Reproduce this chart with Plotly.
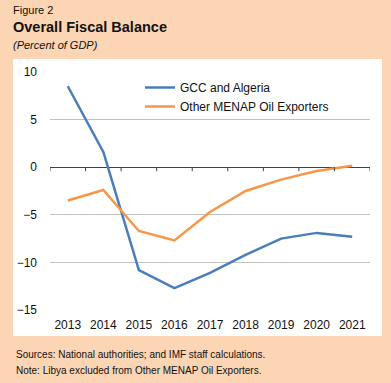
import plotly.graph_objects as go

years = ["2013", "2014", "2015", "2016", "2017", "2018", "2019", "2020", "2021"]
gcc_algeria = [8.5, 1.6, -10.8, -12.7, -11.1, -9.2, -7.5, -6.9, -7.3]
other_menap = [-3.5, -2.4, -6.7, -7.7, -4.7, -2.5, -1.3, -0.4, 0.15]
y_ticks = [10, 5, 0, -5, -10, -15]

W, H = 391, 383
L, R, T, B = 50, 21, 72, 73
pw, ph = W - L - R, H - T - B
unit = ph / 25.0

def px_x(x):
    return (x - L) / pw

def px_y(y):
    return (H - B - y) / ph

FONT = "Liberation Sans, Arial, sans-serif"
TXT = "#111111"
PEACH = "#FCD5B4"
AXIS = "#404040"

fig = go.Figure()
fig.add_trace(go.Scatter(x=years, y=gcc_algeria, mode="lines", name="GCC and Algeria",
                         line=dict(color="#4A7EBB", width=2.5)))
fig.add_trace(go.Scatter(x=years, y=other_menap, mode="lines", name="Other MENAP Oil Exporters",
                         line=dict(color="#F79646", width=2.5)))

bx0, bx1, by0, by1 = 13, 382, 59, 336
frame = [(0, W, 0, by0), (0, W, by1, H), (0, bx0, by0, by1), (bx1, W, by0, by1)]
shapes = [dict(type="rect", xref="paper", yref="paper", layer="below",
               x0=px_x(a), x1=px_x(b), y0=px_y(d), y1=px_y(c),
               fillcolor=PEACH, line=dict(width=0)) for a, b, c, d in frame]
# small tick marks on the zero line at the category boundaries
shapes += [dict(type="line", xref="x", yref="y", x0=i - 0.5, x1=i - 0.5,
                y0=0, y1=-4 / unit, line=dict(color=AXIS, width=1))
           for i in range(len(years) + 1)]

fig.update_layout(
    template="none",
    width=W, height=H,
    margin=dict(l=L, r=R, t=T, b=B),
    paper_bgcolor="white",
    plot_bgcolor="white",
    font=dict(family=FONT, color=TXT, size=12),
    showlegend=True,
    legend=dict(x=px_x(140), y=px_y(73), xanchor="left", yanchor="top",
                bgcolor="rgba(0,0,0,0)", font=dict(size=12, color=TXT),
                tracegroupgap=0, itemwidth=30),
    xaxis=dict(type="category", range=[-0.5, 8.5], showgrid=False, showline=False,
               ticks="", tickfont=dict(size=12, color=TXT), ticklabelstandoff=6,
               zeroline=False),
    yaxis=dict(range=[-15, 10], tickmode="array", tickvals=y_ticks, showgrid=True,
               gridcolor="#C0C0C0", gridwidth=1, zeroline=True, zerolinecolor=AXIS,
               zerolinewidth=1, showline=False, ticks="",
               tickfont=dict(size=12, color=TXT), ticklabelstandoff=12),
    shapes=shapes,
    annotations=[
        dict(text="Figure 2", x=px_x(11), y=px_y(10), xref="paper", yref="paper",
             xanchor="left", yanchor="middle", showarrow=False, font=dict(size=11, color=TXT)),
        dict(text="<b>Overall Fiscal Balance</b>", x=px_x(11), y=px_y(27), xref="paper", yref="paper",
             xanchor="left", yanchor="middle", showarrow=False, font=dict(size=14.5, color=TXT)),
        dict(text="<i>(Percent of GDP)</i>", x=px_x(11), y=px_y(45), xref="paper", yref="paper",
             xanchor="left", yanchor="middle", showarrow=False, font=dict(size=11, color=TXT)),
        dict(text="Sources: National authorities; and IMF staff calculations.", x=px_x(14), y=px_y(354),
             xref="paper", yref="paper", xanchor="left", yanchor="middle", showarrow=False,
             font=dict(size=10, color=TXT)),
        dict(text="Note: Libya excluded from Other MENAP Oil Exporters.", x=px_x(14), y=px_y(370),
             xref="paper", yref="paper", xanchor="left", yanchor="middle", showarrow=False,
             font=dict(size=10, color=TXT)),
    ],
)

fig.write_html("out.html", config={"displayModeBar": False},
               post_script="document.body.style.margin='0';document.body.style.background='%s';" % PEACH)
